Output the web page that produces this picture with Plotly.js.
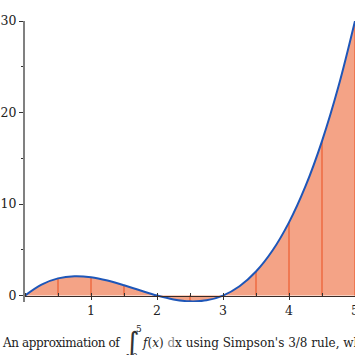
<!DOCTYPE html>
<html>
<head>
<meta charset="utf-8">
<script src="https://cdn.plot.ly/plotly-3.0.1.min.js"></script>
<style>html,body{margin:0;padding:0;background:#fff;}#chart{width:355px;height:355px;}</style>
</head>
<body>
<div id="chart"></div>
<script>
// f(x) at steps of 0.25
const xVals = [0,0.25,0.5,0.75,1,1.25,1.5,1.75,2,2.25,2.5,2.75,3,3.25,3.5,3.75,4,4.25,4.5,4.75,5];
const fVals = [0,1.2,1.88,2.11,2,1.64,1.13,0.55,0,-0.42,-0.63,-0.52,0,1.02,2.63,4.92,8,11.95,16.88,22.86,30];
// partition points (vertical lines) and their heights
const partX = [0.5,1,1.5,2,2.5,3,3.5,4,4.5,5];
const partY = [1.88,2,1.13,0,-0.63,0,2.63,8,16.88,30];
const xTicks = [1,2,3,4,5];
const yTicks = [0,10,20,30];
const captionPre = "An approximation of";
const captionPost = "<i>f</i>(<i>x</i>) <span style='color:#8a8a8a'>d</span>x using Simpson's 3/8 rule, where";

const vx = [], vy = [];
partX.forEach((x,i)=>{ vx.push(x,x,null); vy.push(0,partY[i],null); });

const serif = "DejaVu Serif, serif";
const traces = [
  {x:xVals, y:fVals, type:'scatter', mode:'lines', fill:'tozeroy', fillcolor:'#F4A386',
   line:{width:0, shape:'spline', color:'#F4A386'}, hoverinfo:'skip'},
  {x:vx, y:vy, type:'scatter', mode:'lines', line:{color:'#EE6A40', width:1.5}, hoverinfo:'skip'},
  {x:xVals, y:fVals, type:'scatter', mode:'lines', line:{color:'#1E56B8', width:2, shape:'spline'}, hoverinfo:'skip'}
];

const L=25, T=21, W=330, H=281;
const px = p => (p-L)/W, py = p => (T+H-p)/H;
const yMin = -0.7, yMax = 30;

const layout = {
  width:355, height:355,
  margin:{l:L, r:0, t:T, b:355-T-H},
  paper_bgcolor:'#fff', plot_bgcolor:'#fff',
  showlegend:false,
  font:{family:serif, size:12, color:'#222'},
  xaxis:{range:[0,5], tickvals:xTicks, ticks:'outside', ticklen:3, tickcolor:'#333', tickwidth:1,
    showline:true, linecolor:'#3a2b26', linewidth:1.5, showgrid:false, zeroline:false,
    anchor:'free', position:(0-yMin)/(yMax-yMin), ticklabeloverflow:'allow',
    minor:{dtick:0.5, ticks:'inside', ticklen:3, tickcolor:'#333', showgrid:false},
    tickfont:{family:serif, size:12.5, color:'#222'}, fixedrange:true},
  yaxis:{range:[yMin,yMax], tickvals:yTicks, ticks:'outside', ticklen:4, tickcolor:'#333', tickwidth:1,
    showline:true, linecolor:'#808080', linewidth:2, showgrid:false, zeroline:false,
    minor:{tickvals:[5,15,25], ticks:'outside', ticklen:2, tickcolor:'#333', showgrid:false},
    tickfont:{family:serif, size:12.5, color:'#222'}, ticklabeloverflow:'allow', fixedrange:true},
  annotations:[
    {xref:'paper', yref:'paper', x:px(0), y:py(343), xanchor:'left', yanchor:'middle', showarrow:false,
     text:"<span style='letter-spacing:-0.4px'>"+captionPre+"</span>", font:{family:serif, size:12, color:'#222'}},
    {xref:'paper', yref:'paper', x:px(132), y:py(342), xanchor:'center', yanchor:'middle', showarrow:false,
     text:'∫', font:{family:'DejaVu Sans, sans-serif', size:28, color:'#333'}},
    {xref:'paper', yref:'paper', x:px(138.5), y:py(329), xanchor:'center', yanchor:'middle', showarrow:false,
     text:'5', font:{family:serif, size:9, color:'#222'}},
    {xref:'paper', yref:'paper', x:px(135), y:py(357), xanchor:'center', yanchor:'middle', showarrow:false,
     text:'0', font:{family:serif, size:9, color:'#222'}},
    {xref:'paper', yref:'paper', x:px(139.5), y:py(343), xanchor:'left', yanchor:'middle', showarrow:false,
     text:captionPost, font:{family:serif, size:12, color:'#222'}}
  ]
};
Plotly.newPlot('chart', traces, layout, {displayModeBar:false, staticPlot:true});
</script>
</body>
</html>
